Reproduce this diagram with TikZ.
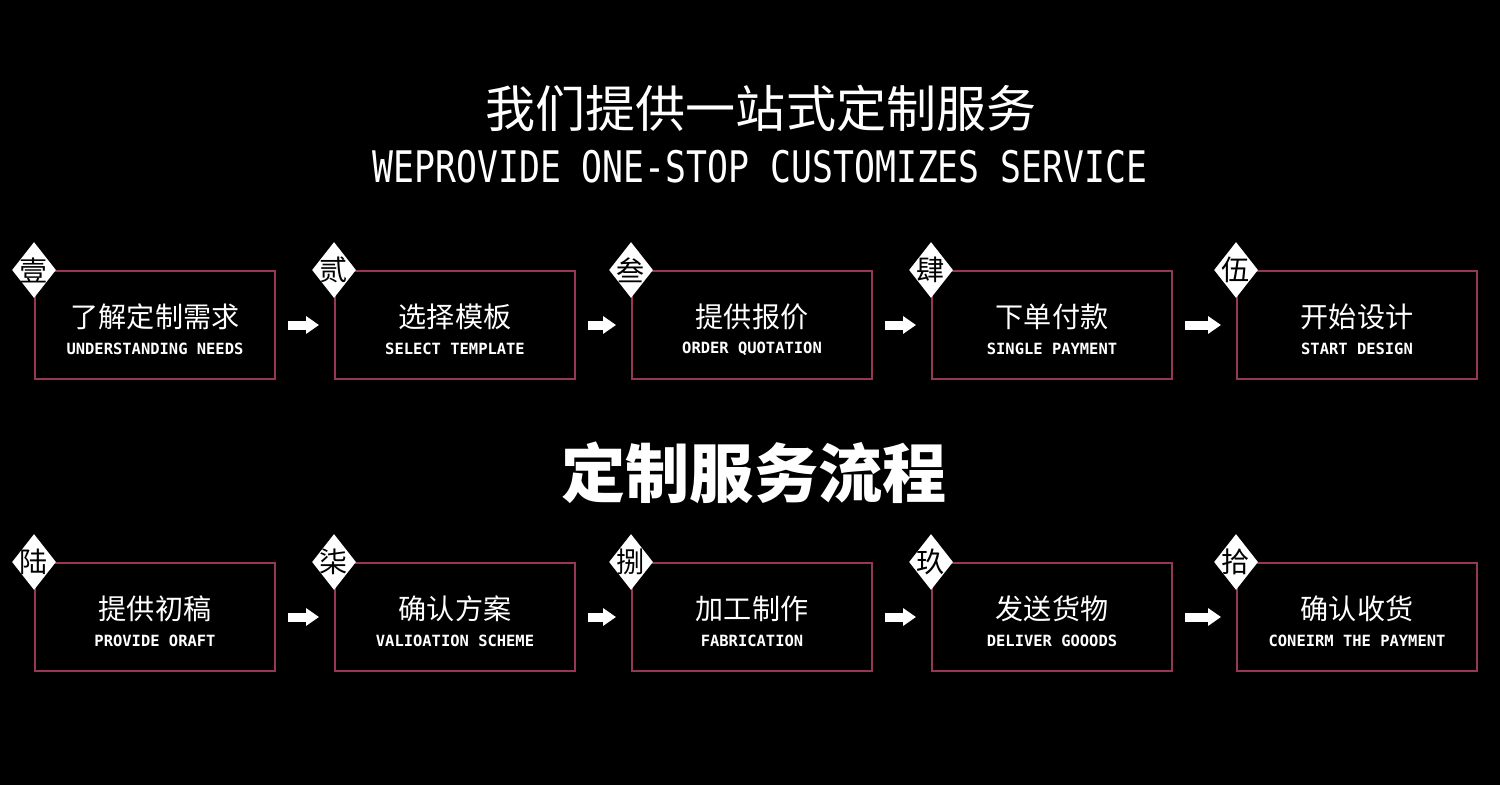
\documentclass[tikz,border=0pt]{standalone}
\usepackage{graphicx}
\usepackage{fontspec}
\usetikzlibrary{shapes.geometric,arrows.meta}
\newfontfamily\cjk{Noto Sans CJK SC}
\newfontfamily\enfont{DejaVu Sans Mono}
\definecolor{boxred}{RGB}{150,55,90}
\tikzset{
    stepbox/.style={draw=boxred, line width=0.04cm, minimum width=4.8cm, minimum height=2.16cm,
        inner sep=0pt, align=center, text=white},
    tagbox/.style={shape=diamond, fill=white, inner sep=0pt, minimum width=0.88cm, minimum height=1.12cm},
    tagtext/.style={inner sep=0pt, text=black, font=\cjk\fontsize{16}{16}\selectfont},
    flowarrow/.style={white, line width=0.18cm, -{Triangle[width=0.34cm,length=0.26cm]},
        shorten <=0.24cm, shorten >=0.3cm},
}
\newcommand{\zh}[1]{{\cjk\fontsize{16}{15.5}\selectfont\rule{0pt}{18.5pt}#1}}
\newcommand{\en}[1]{{\enfont\bfseries\fontsize{8.8}{15.5}\selectfont #1}}
\begin{document}
\begin{tikzpicture}[x=0.02cm, y=-0.02cm]
    % Background
    \useasboundingbox (0,0) rectangle (1500,784);
    \fill[black] (-5,-5) rectangle (1505,789);

    % Titles
    \node[text=white, font=\cjk\fontsize{28.5}{30}\selectfont] (title) at (761,108) {我们提供一站式定制服务};
    \node[text=white, font=\enfont\fontsize{19.8}{20}\selectfont] (subtitle) at (760,167)
        {\scalebox{1}[1.25]{WEPROVIDE ONE-STOP CUSTOMIZES SERVICE}};
    \node[text=white, font=\cjk\bfseries\fontsize{36.5}{38}\selectfont] (flowtitle) at (754,473) {定制服务流程};

    % First row
    \node[stepbox] (b1) at (155,325) {\zh{了解定制需求}\\[3pt]\en{UNDERSTANDING NEEDS}};
    \node[stepbox] (b2) at (455,325) {\zh{选择模板}\\[3pt]\en{SELECT TEMPLATE}};
    \node[stepbox] (b3) at (752,325) {\zh{提供报价}\\[3pt]\en{ORDER QUOTATION}};
    \node[stepbox] (b4) at (1052,325) {\zh{下单付款}\\[3pt]\en{SINGLE PAYMENT}};
    \node[stepbox] (b5) at (1357,325) {\zh{开始设计}\\[3pt]\en{START DESIGN}};

    % Second row
    \node[stepbox] (b6) at (155,617) {\zh{提供初稿}\\[3pt]\en{PROVIDE ORAFT}};
    \node[stepbox] (b7) at (455,617) {\zh{确认方案}\\[3pt]\en{VALIOATION SCHEME}};
    \node[stepbox] (b8) at (752,617) {\zh{加工制作}\\[3pt]\en{FABRICATION}};
    \node[stepbox] (b9) at (1052,617) {\zh{发送货物}\\[3pt]\en{DELIVER GOOODS}};
    \node[stepbox] (b10) at (1357,617) {\zh{确认收货}\\[3pt]\en{CONEIRM THE PAYMENT}};

    % Number tags
    \node[tagbox, label={[tagtext]center:壹}] (t1) at (b1.north west) {};
    \node[tagbox, label={[tagtext]center:贰}] (t2) at (b2.north west) {};
    \node[tagbox, label={[tagtext]center:叁}] (t3) at (b3.north west) {};
    \node[tagbox, label={[tagtext]center:肆}] (t4) at (b4.north west) {};
    \node[tagbox, label={[tagtext]center:伍}] (t5) at (b5.north west) {};
    \node[tagbox, label={[tagtext]center:陆}] (t6) at (b6.north west) {};
    \node[tagbox, label={[tagtext]center:柒}] (t7) at (b7.north west) {};
    \node[tagbox, label={[tagtext]center:捌}] (t8) at (b8.north west) {};
    \node[tagbox, label={[tagtext]center:玖}] (t9) at (b9.north west) {};
    \node[tagbox, label={[tagtext]center:拾}] (t10) at (b10.north west) {};

    % Arrows
    \draw[flowarrow] (b1) -- (b2);
    \draw[flowarrow] (b2) -- (b3);
    \draw[flowarrow] (b3) -- (b4);
    \draw[flowarrow] (b4) -- (b5);
    \draw[flowarrow] (b6) -- (b7);
    \draw[flowarrow] (b7) -- (b8);
    \draw[flowarrow] (b8) -- (b9);
    \draw[flowarrow] (b9) -- (b10);
\end{tikzpicture}
\end{document}
